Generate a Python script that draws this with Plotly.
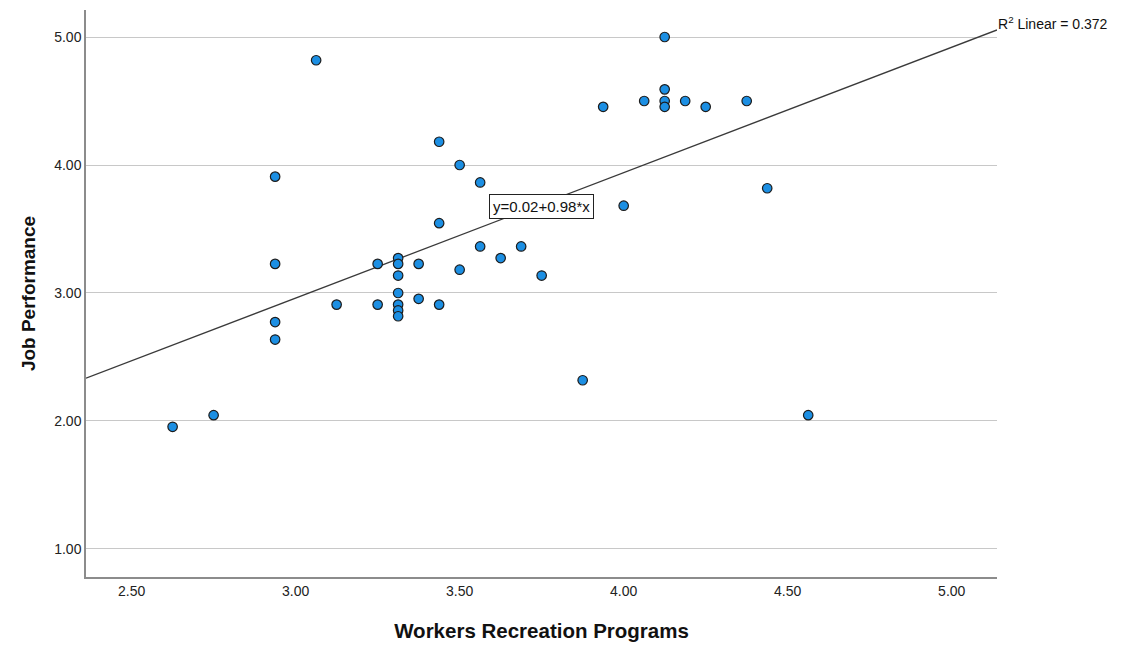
import plotly.graph_objects as go

# Data
recreation = [2.625, 2.75, 2.9375, 2.9375, 2.9375, 2.9375, 3.0625, 3.125, 3.25, 3.25,
              3.3125, 3.3125, 3.3125, 3.3125, 3.3125, 3.3125, 3.3125, 3.375, 3.375,
              3.4375, 3.4375, 3.4375, 3.5, 3.5, 3.5625, 3.5625, 3.625, 3.6875, 3.75,
              3.875, 3.9375, 4.0, 4.0625, 4.125, 4.125, 4.125, 4.125, 4.1875, 4.25,
              4.375, 4.4375, 4.5625]
performance = [1.9545, 2.0455, 3.9091, 3.2273, 2.7727, 2.6364, 4.8182, 2.9091, 3.2273, 2.9091,
               3.2727, 3.2273, 3.1364, 3.0, 2.9091, 2.8636, 2.8182, 3.2273, 2.9545,
               4.1818, 3.5455, 2.9091, 4.0, 3.1818, 3.8636, 3.3636, 3.2727, 3.3636, 3.1364,
               2.3182, 4.4545, 3.6818, 4.5, 5.0, 4.5909, 4.5, 4.4545, 4.5, 4.4545,
               4.5, 3.8182, 2.0455]

fit_intercept = 0.02
fit_slope = 0.98
r_squared = 0.372

x_ticks = [2.5, 3.0, 3.5, 4.0, 4.5, 5.0]
y_ticks = [1.0, 2.0, 3.0, 4.0, 5.0]
x_range = [2.361, 5.138]
y_range = [0.781, 5.211]

fit_x = x_range
fit_y = [fit_intercept + fit_slope * v for v in fit_x]

fig = go.Figure()
fig.add_trace(go.Scatter(
    x=fit_x, y=fit_y, mode="lines",
    line=dict(color="#3a3a3a", width=1.3),
    hoverinfo="skip", showlegend=False, cliponaxis=False,
))
fig.add_trace(go.Scatter(
    x=recreation, y=performance, mode="markers",
    marker=dict(size=9.5, color="#1c8fe3", line=dict(color="#1c1c1c", width=1.2)),
    showlegend=False,
))

fig.add_annotation(
    x=3.751, y=3.672, xref="x", yref="y",
    text=f"y={fit_intercept:.2f}+{fit_slope:.2f}*x",
    showarrow=False, bgcolor="white", bordercolor="#222222", borderwidth=1, borderpad=3,
    font=dict(family="Liberation Sans, Arial", size=15, color="#111111"),
)
fig.add_annotation(
    x=1.0, y=1.0, xref="paper", yref="paper", xanchor="left", yanchor="middle",
    xshift=-1, yshift=-13,
    text=f"R<sup>2</sup> Linear = {r_squared:.3f}",
    showarrow=False,
    font=dict(family="Liberation Sans, Arial", size=14, color="#111111"),
)

fig.update_layout(
    width=1122, height=648,
    margin=dict(l=78, r=133, t=2, b=79),
    paper_bgcolor="white", plot_bgcolor="white",
    font=dict(family="Liberation Sans, Arial", color="#222222"),
)
fig.update_xaxes(
    range=x_range, tickvals=x_ticks, ticktext=[f"{v:.2f}" for v in x_ticks],
    showgrid=False, zeroline=False, showline=True, linecolor="#8c8c8c", linewidth=1.5,
    ticks="", tickfont=dict(size=14, color="#222222"),
    title=dict(text="<b>Workers Recreation Programs</b>", font=dict(size=20.5, color="#111111"), standoff=26),
)
fig.update_yaxes(
    range=y_range, tickvals=y_ticks, ticktext=[f"{v:.2f}" for v in y_ticks],
    showgrid=True, gridcolor="#c8c8c8", gridwidth=1.3, zeroline=False,
    showline=True, linecolor="#8c8c8c", linewidth=1.5,
    ticks="", tickfont=dict(size=14, color="#222222"),
    title=dict(text="<b>Job Performance</b>", font=dict(size=19, color="#111111"), standoff=14),
)

fig.write_html("out.html")
